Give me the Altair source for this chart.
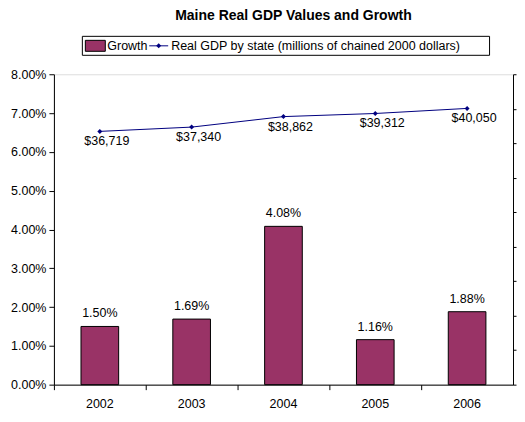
import altair as alt
import pandas as pd

years = ["2002", "2003", "2004", "2005", "2006"]
growth = [0.0150, 0.0169, 0.0408, 0.0116, 0.0188]
gdp = [36719, 37340, 38862, 39312, 40050]
gdp_labels = ["$36,719", "$37,340", "$38,862", "$39,312", "$40,050"]
growth_ticks = [0, 0.01, 0.02, 0.03, 0.04, 0.05, 0.06, 0.07, 0.08]
gdp_ticks = [0, 5000, 10000, 15000, 20000, 25000, 30000, 35000, 40000, 45000]

BAR = "#993366"
LINE = "#000080"
FONT = "Liberation Sans"
FS = 12.5

df = pd.DataFrame({"year": years, "growth": growth, "gdp": gdp, "gdp_label": gdp_labels})

x = alt.X("year:N", title=None,
          scale=alt.Scale(paddingInner=0, paddingOuter=0),
          axis=alt.Axis(labelAngle=0, bandPosition=0, tickSize=5, labelPadding=8,
                        labelFontSize=FS, labelColor="black", domainColor="black",
                        tickColor="black", labelFont=FONT))

y_growth = alt.Y("growth:Q", title=None,
                 scale=alt.Scale(domain=[0, 0.08], nice=False),
                 axis=alt.Axis(orient="left", format=".2%", values=growth_ticks, grid=False,
                               tickSize=5, labelFontSize=FS, labelColor="black",
                               domainColor="black", tickColor="black", labelFont=FONT,
                               labelPadding=3))

y_gdp = alt.Y("gdp:Q", title=None,
              scale=alt.Scale(domain=[0, 45000], nice=False),
              axis=alt.Axis(orient="right", values=gdp_ticks, labels=False, grid=False,
                            tickSize=3, domainColor="black", tickColor="black"))

base = alt.Chart(df)

bars = base.mark_bar(color=BAR, stroke="black", strokeWidth=1,
                     width=alt.RelativeBandSize(0.41)).encode(x=x, y=y_growth)
bar_text = base.mark_text(dy=-13, baseline="middle", fontSize=FS, font=FONT,
                          color="black").encode(
    x=x, y=y_growth, text=alt.Text("growth:Q", format=".2%"))
bar_layer = alt.layer(bars, bar_text)

line = base.mark_line(color=LINE, strokeWidth=1).encode(x=x, y=y_gdp)
pts = base.mark_point(shape="diamond", filled=True, color=LINE, size=25,
                      opacity=1).encode(x=x, y=y_gdp)
line_text = base.mark_text(dx=7, dy=10, baseline="middle", fontSize=FS, font=FONT,
                           color="black").encode(x=x, y=y_gdp, text="gdp_label:N")
line_layer = alt.layer(line, pts, line_text)

LX = 28.5
one = alt.Chart(pd.DataFrame({"a": [0]}))
leg_box = one.mark_rect(fill="white", stroke="black", strokeWidth=1).encode(
    x=alt.value(LX), x2=alt.value(LX + 408), y=alt.value(-38), y2=alt.value(-19))
leg_sw = one.mark_rect(fill=BAR, stroke="black", strokeWidth=1).encode(
    x=alt.value(LX + 3), x2=alt.value(LX + 23), y=alt.value(-34), y2=alt.value(-23))
leg_t1 = one.mark_text(align="left", baseline="middle", fontSize=FS, font=FONT,
                       color="black").encode(
    x=alt.value(LX + 25), y=alt.value(-28.5), text=alt.value("Growth"))
leg_rule = one.mark_rule(color=LINE, strokeWidth=1).encode(
    x=alt.value(LX + 67), x2=alt.value(LX + 86), y=alt.value(-28.5))
leg_pt = one.mark_point(shape="diamond", filled=True, color=LINE, size=25,
                        opacity=1).encode(x=alt.value(LX + 76.5), y=alt.value(-28.5))
leg_t2 = one.mark_text(align="left", baseline="middle", fontSize=FS, font=FONT,
                       color="black").encode(
    x=alt.value(LX + 89), y=alt.value(-28.5),
    text=alt.value("Real GDP by state (millions of chained 2000 dollars)"))

chart = alt.layer(
    bar_layer, line_layer, leg_box, leg_sw, leg_t1, leg_rule, leg_pt, leg_t2
).resolve_scale(y="independent").properties(
    width=460, height=311,
    title=alt.TitleParams("Maine Real GDP Values and Growth", font=FONT, fontSize=14,
                          fontWeight="bold", color="black", anchor="middle", dx=10,
                          offset=13),
    padding={"left": 2, "top": 0, "right": 0, "bottom": 0},
    background="white",
).configure_view(fill="#C0C0C0", stroke="#808080", strokeWidth=1).configure(font=FONT)

chart.save("out.html", embed_options={"renderer": "svg", "actions": False})
